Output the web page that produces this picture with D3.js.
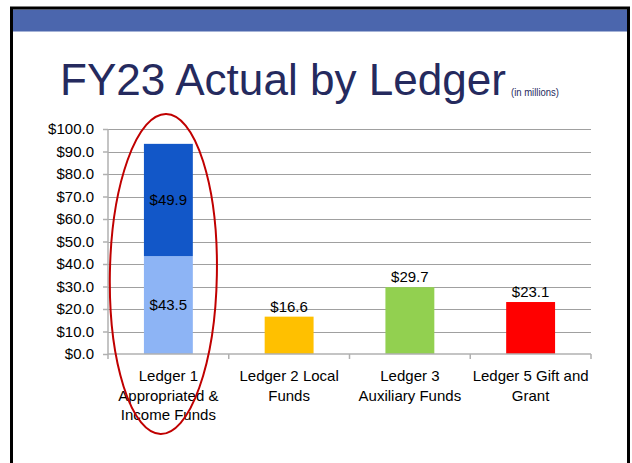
<!DOCTYPE html>
<html>
<head>
<meta charset="utf-8">
<script src="https://cdn.jsdelivr.net/npm/d3@7"></script>
<style>
  html, body { margin: 0; padding: 0; background: #fff; }
  svg { display: block; font-family: "Liberation Sans", Arial, sans-serif; }
</style>
</head>
<body>
<svg id="chart" width="632" height="463"></svg>
<script>
// ---- data ----
const categories = ["Ledger 1 Appropriated & Income Funds", "Ledger 2 Local Funds", "Ledger 3 Auxiliary Funds", "Ledger 5 Gift and Grant"];
const categoryLines = [["Ledger 1", "Appropriated &", "Income Funds"], ["Ledger 2 Local", "Funds"], ["Ledger 3", "Auxiliary Funds"], ["Ledger 5 Gift and", "Grant"]];
const baseValues = [43.5, 16.6, 29.7, 23.1];
const upperValues = [49.9, 0, 0, 0];
const yTickValues = [0, 10, 20, 30, 40, 50, 60, 70, 80, 90, 100];
const titleText = "FY23 Actual by Ledger";
const subtitleText = "(in millions)";

// ---- styles ----
const baseColors = ["#8db4f5", "#ffc000", "#92d050", "#ff0000"];
const upperColor = "#1257c8";
const fmt = v => "$" + d3.format(".1f")(v);

const svg = d3.select("#chart");

// slide frame
svg.append("rect").attr("x", 12).attr("y", 9.5).attr("width", 615).attr("height", 22).attr("fill", "#4b66ad");
svg.append("line").attr("x1", 10).attr("x2", 630).attr("y1", 8).attr("y2", 8).attr("stroke", "#000").attr("stroke-width", 3);
svg.append("line").attr("x1", 11.5).attr("x2", 11.5).attr("y1", 7).attr("y2", 463).attr("stroke", "#000").attr("stroke-width", 3);
svg.append("line").attr("x1", 628.5).attr("x2", 628.5).attr("y1", 7).attr("y2", 463).attr("stroke", "#000").attr("stroke-width", 3);

// title
svg.append("text").attr("x", 60).attr("y", 95).attr("font-size", 45).attr("fill", "#252a5e")
  .attr("textLength", 446).attr("lengthAdjust", "spacingAndGlyphs").text(titleText);
svg.append("text").attr("x", 511).attr("y", 96).attr("font-size", 10).attr("fill", "#252a5e")
  .attr("textLength", 48).attr("lengthAdjust", "spacingAndGlyphs").text(subtitleText);

// scales
const x = d3.scaleBand().domain(categories).range([108, 591]).padding(0);
const y = d3.scaleLinear().domain([0, 100]).range([354, 129]);
const barW = x.bandwidth() * 0.405;

// gridlines
svg.append("g").selectAll("line").data(yTickValues.filter(v => v > 0)).join("line")
  .attr("x1", 108).attr("x2", 591)
  .attr("y1", d => Math.round(y(d)) + 0.5).attr("y2", d => Math.round(y(d)) + 0.5)
  .attr("stroke", "#a0a0a0").attr("stroke-width", 1);

// y axis
const yAxis = d3.axisLeft(y).tickValues(yTickValues).tickFormat(fmt).tickSize(5).tickPadding(9);
const gy = svg.append("g").attr("transform", "translate(108,0)").call(yAxis);
gy.select(".domain").attr("stroke", "#b0b0b0").attr("stroke-width", 1.5).attr("d", "M0," + y(100) + "V" + y(0));
gy.selectAll(".tick line").attr("stroke", "#b0b0b0").attr("stroke-width", 1.5);
gy.selectAll(".tick text").attr("font-size", 15).attr("fill", "#000").attr("font-family", "Liberation Sans, Arial, sans-serif");

// bars
const g = svg.append("g");
g.selectAll("rect.base").data(categories).join("rect").attr("class", "base")
  .attr("x", (d) => x(d) + (x.bandwidth() - barW) / 2)
  .attr("width", barW)
  .attr("y", (d, i) => y(baseValues[i]))
  .attr("height", (d, i) => y(0) - y(baseValues[i]))
  .attr("fill", (d, i) => baseColors[i]);
g.selectAll("rect.upper").data(categories.filter((d, i) => upperValues[i] > 0)).join("rect").attr("class", "upper")
  .attr("x", (d) => x(d) + (x.bandwidth() - barW) / 2)
  .attr("width", barW)
  .attr("y", (d) => { const i = categories.indexOf(d); return y(baseValues[i] + upperValues[i]); })
  .attr("height", (d) => { const i = categories.indexOf(d); return y(baseValues[i]) - y(baseValues[i] + upperValues[i]); })
  .attr("fill", upperColor);

// x axis
const xAxis = d3.axisBottom(x).tickSize(0).tickFormat("");
const gx = svg.append("g").attr("transform", "translate(0,354)").call(xAxis);
gx.select(".domain").attr("stroke", "#b0b0b0").attr("stroke-width", 1.5).attr("d", "M108,0H591");
const boundaries = categories.map(c => x(c)).concat([x.range()[1]]);
gx.selectAll("line.sep").data(boundaries).join("line").attr("class", "sep")
  .attr("x1", d => d).attr("x2", d => d).attr("y1", 0).attr("y2", 5)
  .attr("stroke", "#b0b0b0").attr("stroke-width", 1.5);

// category labels
const lab = svg.append("g").attr("font-size", 15).attr("fill", "#000").attr("text-anchor", "middle");
categories.forEach((c, i) => {
  const t = lab.append("text").attr("x", x(c) + x.bandwidth() / 2).attr("y", 381);
  categoryLines[i].forEach((ln, k) => {
    t.append("tspan").attr("x", x(c) + x.bandwidth() / 2).attr("dy", k === 0 ? 0 : 19.7).text(ln);
  });
});

// data labels
const dl = svg.append("g").attr("font-size", 15).attr("fill", "#000").attr("text-anchor", "middle");
categories.forEach((c, i) => {
  const cx = x(c) + x.bandwidth() / 2;
  if (upperValues[i] > 0) {
    dl.append("text").attr("x", cx).attr("y", (y(0) + y(baseValues[i])) / 2).attr("dy", "0.35em").text(fmt(baseValues[i]));
    dl.append("text").attr("x", cx).attr("y", (y(baseValues[i]) + y(baseValues[i] + upperValues[i])) / 2).attr("dy", "0.35em").text(fmt(upperValues[i]));
  } else {
    dl.append("text").attr("x", cx).attr("y", y(baseValues[i]) - 5).text(fmt(baseValues[i]));
  }
});

// red annotation ellipse around Ledger 1
const c0 = x(categories[0]) + x.bandwidth() / 2 - 5;
svg.append("ellipse").attr("cx", c0).attr("cy", 274).attr("rx", 53.5).attr("ry", 160)
  .attr("transform", `rotate(1,${c0},274)`)
  .attr("fill", "none").attr("stroke", "#c00000").attr("stroke-width", 2);
</script>
</body>
</html>
